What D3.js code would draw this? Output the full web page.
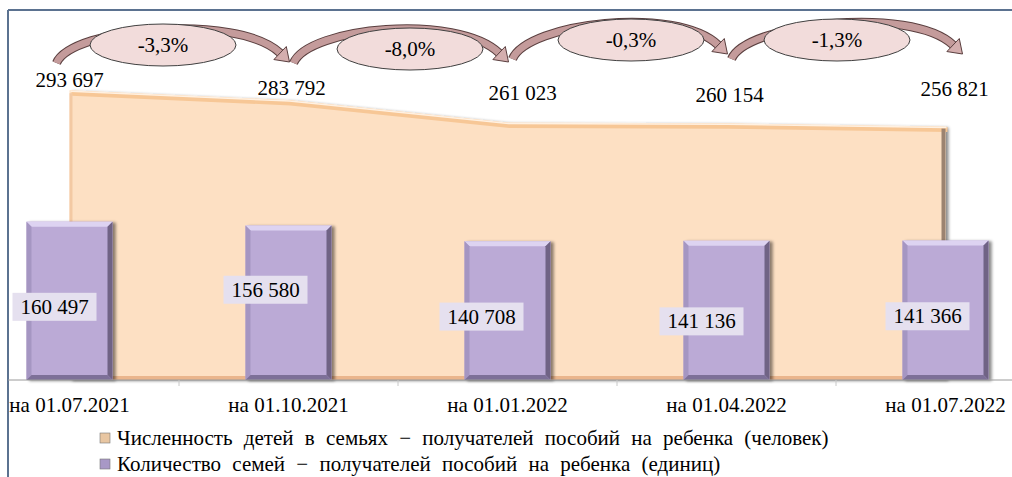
<!DOCTYPE html>
<html>
<head>
<meta charset="utf-8">
<script src="https://cdn.jsdelivr.net/npm/d3@7"></script>
<style>
  body { margin: 0; background: #fff; }
</style>
</head>
<body>
<div id="chart"></div>
<script>
// data
const categories = ['на 01.07.2021', 'на 01.10.2021', 'на 01.01.2022', 'на 01.04.2022', 'на 01.07.2022'];
const children = [293697, 283792, 261023, 260154, 256821];
const families = [160497, 156580, 140708, 141136, 141366];
const changes = ['-3,3%', '-8,0%', '-0,3%', '-1,3%'];
const legendLabels = [
    'Численность детей в семьях − получателей пособий на ребенка (человек)',
    'Количество семей − получателей пособий на ребенка (единиц)'
];

// hand placed label nudges (as in the original slide)
const childLabelNudge = [[0, -10], [3, -12], [15, -29], [3, -28], [9, -38]];
const familyLabelNudge = [[-15, 6], [-23, -13], [-26, 6], [-25, 11], [-18, 6]];
const bubbleNudge = [[-16, 45], [12, 49], [14, 40], [1, 40]];

const width = 1012, height = 477;
const FONT = '"Liberation Serif"';
const fmt = v => d3.format(',')(v).replace(/,/g, ' ');

const svg = d3.select('#chart').append('svg')
    .attr('width', width)
    .attr('height', height);

const defs = svg.append('defs');
defs.append('filter').attr('id', 'shadow')
    .attr('x', '-10%').attr('y', '-10%').attr('width', '130%').attr('height', '130%')
    .append('feDropShadow')
    .attr('dx', 3).attr('dy', 1).attr('stdDeviation', 1.5)
    .attr('flood-color', '#000').attr('flood-opacity', 0.45);

// scales
const x = d3.scaleBand().domain(categories).range([-40, 1055]).padding(0);
const cx = c => x(c) + x.bandwidth() / 2;
const y = d3.scaleLinear().domain([0, 300000]).range([380, 84]);
const barW = 86;
const b = 5;

// frame
svg.append('line').attr('x1', 8).attr('y1', 10).attr('x2', width).attr('y2', 10)
    .attr('stroke', '#5b7290').attr('stroke-width', 2);
svg.append('line').attr('x1', 8).attr('y1', 10).attr('x2', 8).attr('y2', height)
    .attr('stroke', '#5b7290').attr('stroke-width', 2);

// area (children)
const pts = categories.map((c, i) => [cx(c), y(children[i])]);
const areaGen = d3.area().x(d => d[0]).y0(y(0)).y1(d => d[1]);
const areaG = svg.append('g');
areaG.append('path')
    .attr('d', areaGen(pts))
    .attr('fill', '#fde0c3')
    .attr('filter', 'url(#shadow)');
// bevel on top edge
areaG.append('path')
    .attr('d', d3.line()(pts.map(p => [p[0] + 2, p[1] + 3])))
    .attr('fill', 'none').attr('stroke', '#f7c796').attr('stroke-width', 5);
areaG.append('path')
    .attr('d', d3.line()(pts.map(p => [p[0] + 1, p[1] + 1])))
    .attr('fill', 'none').attr('stroke', '#fff1e2').attr('stroke-width', 1.5);
// left, right and bottom edges
const first = pts[0], last = pts[pts.length - 1];
areaG.append('rect')
    .attr('x', first[0]).attr('y', first[1] + 3)
    .attr('width', 3).attr('height', y(0) - first[1] - 3)
    .attr('fill', '#f3c9a3');
areaG.append('rect')
    .attr('x', last[0] - 4).attr('y', last[1] + 2)
    .attr('width', 4).attr('height', y(0) - last[1] - 2)
    .attr('fill', '#9c8370');
areaG.append('rect')
    .attr('x', first[0]).attr('y', y(0) - 4)
    .attr('width', last[0] - first[0] - 4).attr('height', 4)
    .attr('fill', '#eab58c');

// bars (families)
svg.append('g').selectAll('g')
    .data(families)
    .join('g')
    .attr('filter', 'url(#shadow)')
    .each(function(v, i) {
        const g = d3.select(this);
        const x0 = cx(categories[i]) - barW / 2, x1 = x0 + barW;
        const y0 = y(v), y1 = y(0);
        g.append('rect').attr('x', x0).attr('y', y0).attr('width', barW).attr('height', y1 - y0)
            .attr('fill', '#bbaad6');
        const poly = (p, fill) => g.append('polygon').attr('points', p.map(q => q.join(',')).join(' ')).attr('fill', fill);
        poly([[x0, y0], [x1, y0], [x1 - b, y0 + b], [x0 + b, y0 + b]], '#ddd3f1');
        poly([[x0, y0], [x0 + b, y0 + b], [x0 + b, y1 - b], [x0, y1]], '#a596c2');
        poly([[x1, y0], [x1, y1], [x1 - b, y1 - b], [x1 - b, y0 + b]], '#6f6385');
        poly([[x0, y1], [x1, y1], [x1 - b, y1 - b], [x0 + b, y1 - b]], '#7d6f98');
    });

// axis
svg.append('line').attr('x1', 8).attr('x2', width).attr('y1', y(0)).attr('y2', y(0))
    .attr('stroke', '#9a9a9a').attr('stroke-width', 1);
svg.append('g').selectAll('line')
    .data(categories.slice(1))
    .join('line')
    .attr('x1', d => x(d)).attr('x2', d => x(d))
    .attr('y1', y(0)).attr('y2', y(0) + 6)
    .attr('stroke', '#c8c8c8');

const axis = svg.append('g')
    .attr('transform', `translate(0,${y(0)})`)
    .call(d3.axisBottom(x).tickSize(0).tickPadding(0));
axis.select('.domain').remove();
axis.attr('font-family', null).attr('font-size', null);
axis.selectAll('text')
    .attr('dy', 0).attr('y', 32)
    .style('font-family', FONT)
    .style('font-size', '21px')
    .style('fill', '#000');

// family labels (boxed)
const famLab = svg.append('g').selectAll('g')
    .data(families)
    .join('g')
    .attr('transform', (v, i) => {
        const mx = cx(categories[i]) + familyLabelNudge[i][0];
        const my = (y(v) + y(0)) / 2 + familyLabelNudge[i][1];
        return `translate(${mx},${my})`;
    });
famLab.append('rect')
    .attr('x', -42).attr('y', -14).attr('width', 84).attr('height', 28)
    .attr('fill', '#e5e0ef');
famLab.append('text')
    .attr('text-anchor', 'middle').attr('dy', 7)
    .style('font-family', FONT)
    .style('font-size', '21px')
    .text(d => fmt(d));

// children labels
svg.append('g').selectAll('text')
    .data(children)
    .join('text')
    .attr('x', (v, i) => cx(categories[i]) + childLabelNudge[i][0])
    .attr('y', (v, i) => y(v) + childLabelNudge[i][1] + 7)
    .attr('text-anchor', 'middle')
    .style('font-family', FONT)
    .style('font-size', '21px')
    .text(d => fmt(d));

// change arrows with bubbles
const arrowsG = svg.append('g');
changes.forEach((t, i) => {
    const sx = cx(categories[i]) + (i === 0 ? -13 : 5);
    const ex = cx(categories[i + 1]) + (i === 3 ? 17 : 1);
    const sy = i < 2 ? 63 : 59;
    const ey = i < 2 ? 62 : 54;
    const p0 = [sx, sy], p1 = [sx + 15, sy - 36], p2 = [ex - 42, ey - 40], p3 = [ex, ey];
    const dx = p3[0] - p2[0], dy = p3[1] - p2[1];
    const len = Math.hypot(dx, dy);
    const ux = dx / len, uy = dy / len;
    const hl = 13, hw = 9;
    const s3 = [p3[0] - ux * hl, p3[1] - uy * hl];
    const s2 = [p2[0] - ux * hl, p2[1] - uy * hl];
    const shaft = `M${p0}C${p1} ${s2} ${s3}`;
    arrowsG.append('path').attr('d', shaft)
        .attr('fill', 'none').attr('stroke', '#5a3f3f').attr('stroke-width', 9);
    arrowsG.append('path').attr('d', shaft)
        .attr('fill', 'none').attr('stroke', '#c49b9b').attr('stroke-width', 7);
    const px = -uy, py = ux;
    arrowsG.append('polygon')
        .attr('points', [
            [s3[0] + px * hw, s3[1] + py * hw],
            [p3[0], p3[1]],
            [s3[0] - px * hw, s3[1] - py * hw]
        ].map(q => q.join(',')).join(' '))
        .attr('fill', '#d4aeae').attr('stroke', '#5a3f3f').attr('stroke-width', 1);

    const bx = (cx(categories[i]) + cx(categories[i + 1])) / 2 + bubbleNudge[i][0];
    const by = bubbleNudge[i][1];
    arrowsG.append('ellipse')
        .attr('cx', bx).attr('cy', by).attr('rx', 73).attr('ry', 21)
        .attr('fill', '#f2dcdb').attr('stroke', '#404040').attr('stroke-width', 1);
    arrowsG.append('text')
        .attr('x', bx).attr('y', by + 7)
        .attr('text-anchor', 'middle')
        .style('font-family', FONT)
        .style('font-size', '21px')
        .text(t);
});

// legend
const legendColors = ['#e8c6a2', '#a898c6'];
const lg = svg.append('g').selectAll('g')
    .data(legendLabels)
    .join('g')
    .attr('transform', (d, i) => `translate(100,${438 + i * 26})`);
lg.append('rect')
    .attr('x', 0).attr('y', -5).attr('width', 10).attr('height', 10)
    .attr('fill', (d, i) => legendColors[i])
    .attr('stroke', '#777').attr('stroke-width', 0.6);
lg.append('text')
    .attr('x', 17).attr('y', 7)
    .style('font-family', FONT)
    .style('font-size', '21px')
    .style('word-spacing', '6px')
    .text(d => d);
</script>
</body>
</html>
